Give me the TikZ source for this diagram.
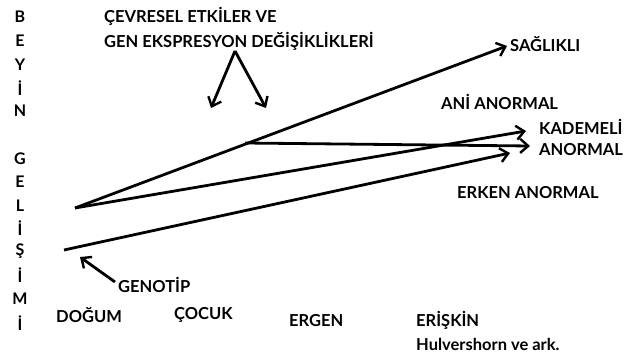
\documentclass[tikz,border=0pt]{standalone}
\usepackage{fontspec}
\setmainfont{Lato}
\usetikzlibrary{arrows.meta}
\begin{document}
\begin{tikzpicture}[x=1pt,y=-1pt,
  lbl/.style={font=\bfseries\fontsize{16.5}{18}\selectfont, inner sep=0pt, anchor=west},
  vl/.style={font=\bfseries\fontsize{16}{18}\selectfont, inner sep=0pt},
  conn/.style={line width=2.8pt, -{Straight Barb[length=8pt,width=14pt,line width=2.4pt]}}]
\useasboundingbox (0,0) rectangle (631,363);
\fill[white] (0,0) rectangle (631,363);
% vertical label
\foreach \t/\yy [count=\i] in {B/17,E/41,Y/65,İ/88,N/111,G/159,E/182,L/206,İ/228,Ş/251,İ/275,M/299,İ/323}
  \node[vl] (v\i) at (20,\yy) {\t};
% top text
\node[lbl] (cev1) at (104,16) {ÇEVRESEL ETKİLER VE};
\node[lbl] (cev2) at (104,41) {GEN EKSPRESYON DEĞİŞİKLİKLERİ};
\coordinate (apex) at (235,51);
\coordinate (tipL) at (211,108);
\coordinate (tipR) at (266,108);
\draw[conn] (apex) -- (tipL);
\draw[conn] (apex) -- (tipR);
% start points
\coordinate (s1) at (75,208);
\coordinate (s2) at (64,250);
\coordinate (br) at (245,143);
\coordinate (eS) at (507,46);
\coordinate (eK) at (526,131);
\coordinate (eA) at (530,146);
\coordinate (eE) at (510,153);
\draw[conn] (s1) -- (eS);
\draw[conn] (br) -- (eA);
\draw[conn] (s1) -- (eK);
\draw[conn] (s2) -- (eE);
% labels
\node[lbl] (sag) at (510,44) {SAĞLIKLI};
\node[lbl] (ani) at (441,102) {ANİ ANORMAL};
\node[lbl] (kad) at (539,127) {KADEMELİ};
\node[lbl] (kan) at (539,150) {ANORMAL};
\node[lbl] (erk) at (457,193) {ERKEN ANORMAL};
% genotip
\node[lbl] (gen) at (118,285) {GENOTİP};
\coordinate (gt) at (80,257);
\draw[conn] (gen.west) ++(-3,-3) coordinate (gs) -- (gt);
% ages
\node[lbl] (dog) at (56,315) {DOĞUM};
\node[lbl] (coc) at (174,315) {ÇOCUK};
\node[lbl] (erg) at (289,321) {ERGEN};
\node[lbl] (eri) at (416,320) {ERİŞKİN};
\node[lbl] (hul) at (416,344) {Hulvershorn ve ark.};
\end{tikzpicture}
\end{document}
